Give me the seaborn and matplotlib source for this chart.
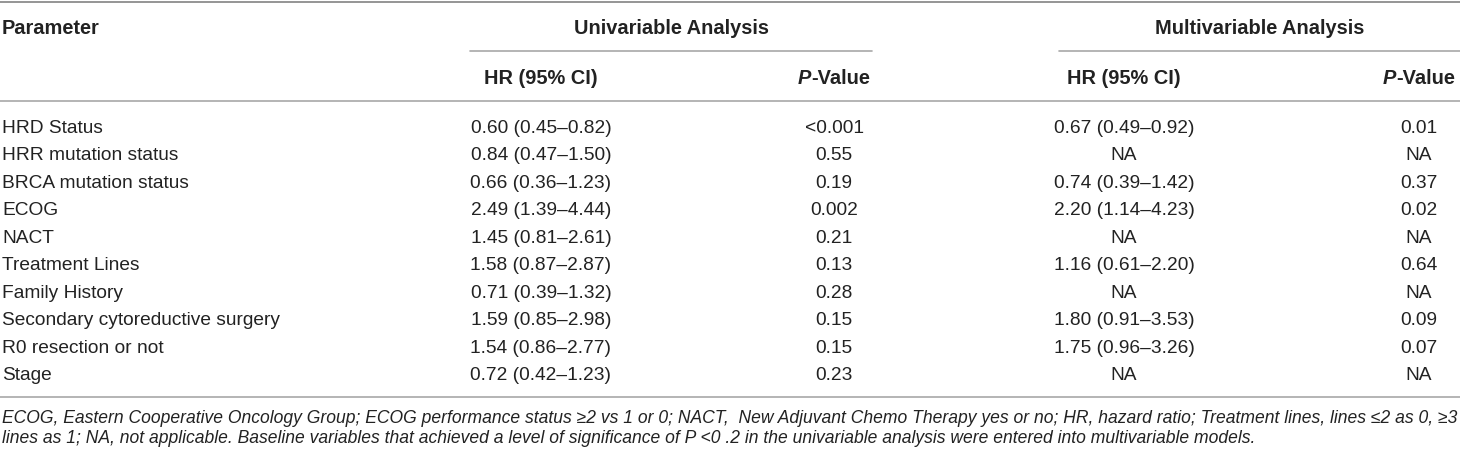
import matplotlib
matplotlib.use("Agg")
import matplotlib.pyplot as plt
import seaborn as sns

# table content
parameters = ["HRD Status", "HRR mutation status", "BRCA mutation status", "ECOG", "NACT",
              "Treatment Lines", "Family History", "Secondary cytoreductive surgery",
              "R0 resection or not", "Stage"]
uni_hr = ["0.60 (0.45–0.82)", "0.84 (0.47–1.50)", "0.66 (0.36–1.23)", "2.49 (1.39–4.44)",
          "1.45 (0.81–2.61)", "1.58 (0.87–2.87)", "0.71 (0.39–1.32)", "1.59 (0.85–2.98)",
          "1.54 (0.86–2.77)", "0.72 (0.42–1.23)"]
uni_p = ["<0.001", "0.55", "0.19", "0.002", "0.21", "0.13", "0.28", "0.15", "0.15", "0.23"]
multi_hr = ["0.67 (0.49–0.92)", "NA", "0.74 (0.39–1.42)", "2.20 (1.14–4.23)", "NA",
            "1.16 (0.61–2.20)", "NA", "1.80 (0.91–3.53)", "1.75 (0.96–3.26)", "NA"]
multi_p = ["0.01", "NA", "0.37", "0.02", "NA", "0.64", "NA", "0.09", "0.07", "NA"]
group_headers = ["Univariable Analysis", "Multivariable Analysis"]
footnote = [
    "ECOG, Eastern Cooperative Oncology Group; ECOG performance status ≥2 vs 1 or 0; NACT,  "
    "New Adjuvant Chemo Therapy yes or no; HR, hazard ratio; Treatment lines, lines ≤2 as 0, ≥3",
    "lines as 1; NA, not applicable. Baseline variables that achieved a level of significance "
    "of P <0 .2 in the univariable analysis were entered into multivariable models.",
]

sns.set_theme(style="white")
plt.rcParams["font.family"] = ["Liberation Sans", "DejaVu Sans"]

TXT = "#222222"
LINE = "#a8a8a8"

fig = plt.figure(figsize=(14.6, 4.54), dpi=100)
ax = fig.add_axes([0, 0, 1, 1])
ax.set_xlim(0, 1460)
ax.set_ylim(454, 0)
ax.axis("off")
renderer = fig.canvas.get_renderer()

body = 13.8
head = 14.4

# column centres
col_x = [541, 834, 1124, 1419]

# rules
ax.plot([0, 1460], [1.5, 1.5], color="#8c8c8c", lw=1.3)
ax.plot([470, 872], [51, 51], color=LINE, lw=1.2)
ax.plot([1059, 1460], [51, 51], color=LINE, lw=1.2)
ax.plot([0, 1460], [101, 101], color=LINE, lw=1.2)
ax.plot([0, 1460], [397, 397], color=LINE, lw=1.2)

# header rows
ax.text(2, 33.5, "Parameter", fontsize=head, fontweight="bold", color=TXT, va="baseline")
ax.text(671, 33.5, group_headers[0], fontsize=head, fontweight="bold", color=TXT,
        ha="center", va="baseline")
ax.text(1260, 33.5, group_headers[1], fontsize=head, fontweight="bold", color=TXT,
        ha="center", va="baseline")


def p_header(xc, y):
    t1 = ax.text(0, y, "P", fontsize=head, fontweight="bold", fontstyle="italic",
                 color=TXT, va="baseline")
    t2 = ax.text(0, y, "-Value", fontsize=head, fontweight="bold", color=TXT, va="baseline")
    w1 = t1.get_window_extent(renderer).width
    w2 = t2.get_window_extent(renderer).width
    x0 = xc - (w1 + w2) / 2
    t1.set_x(x0)
    t2.set_x(x0 + w1)


for i, xc in enumerate(col_x):
    if i % 2 == 0:
        ax.text(xc, 84.5, "HR (95% CI)", fontsize=head, fontweight="bold", color=TXT,
                ha="center", va="baseline")
    else:
        p_header(xc, 84.5)

# body rows
for i, name in enumerate(parameters):
    y = 126.5 + i * 27.5 + 6.3
    ax.text(2, y, name, fontsize=body, color=TXT, va="baseline")
    for xc, col in zip(col_x, [uni_hr, uni_p, multi_hr, multi_p]):
        ax.text(xc, y, col[i], fontsize=body, color=TXT, ha="center", va="baseline")

# footnote, sized to fill the width
fn = [ax.text(2, 0, line, fontsize=12, fontstyle="italic", color=TXT, va="baseline")
      for line in footnote]
w = fn[0].get_window_extent(renderer).width
fs = 12 * 1456 / w
for t, y in zip(fn, [423, 443]):
    t.set_fontsize(fs)
    t.set_y(y)

fig.savefig("out.png", dpi=100, facecolor="white")
